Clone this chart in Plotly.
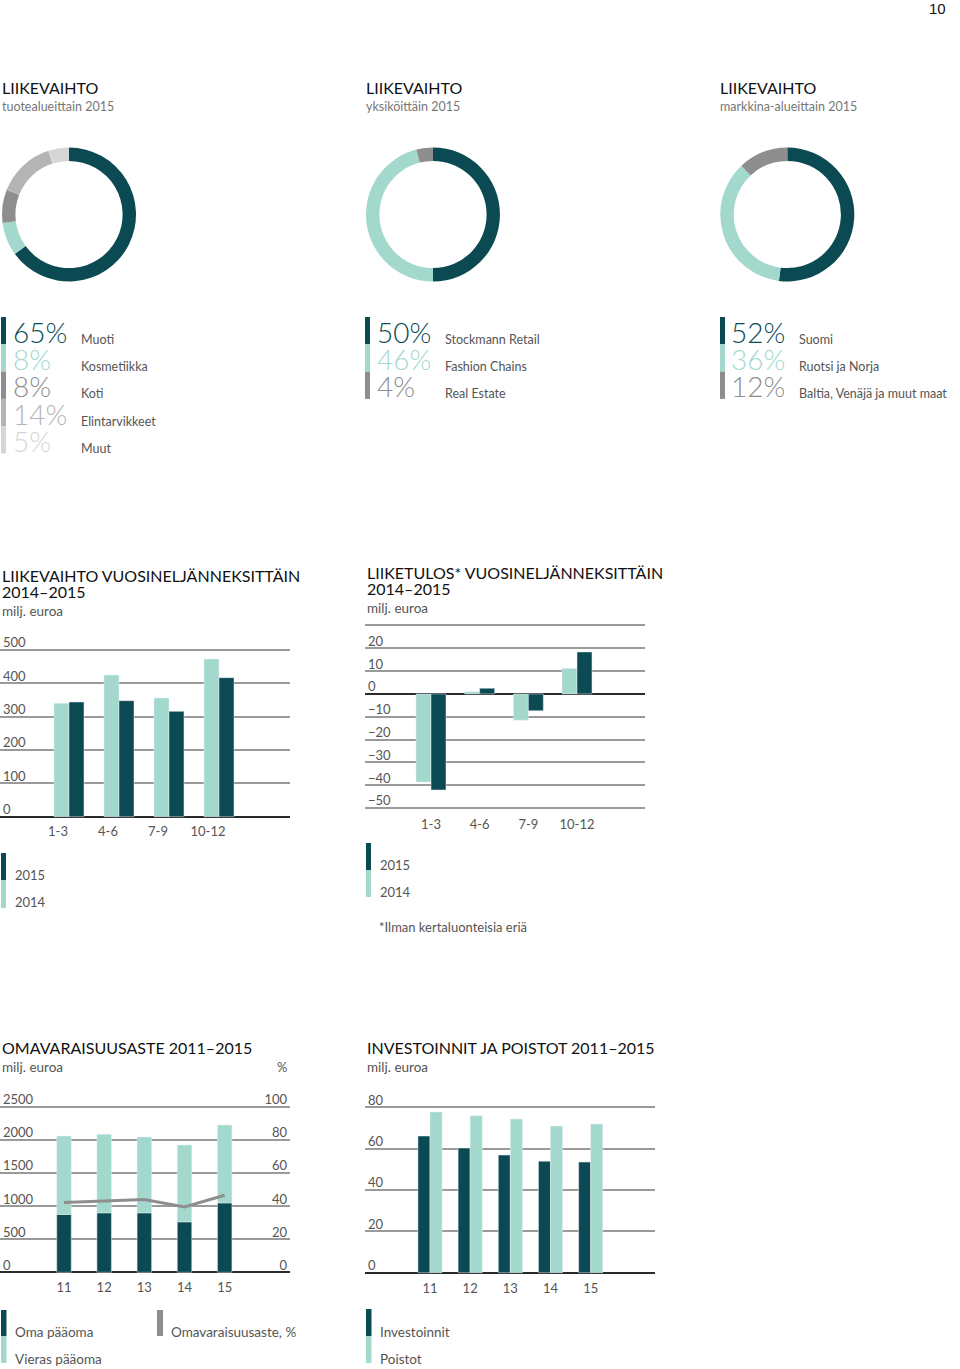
import plotly.graph_objects as go

W, H = 960, 1369
DARK = "#0c4a53"
LIGHT = "#a3d8cc"
GRAY = "#8e8e8e"
LGRAY = "#b4b4b4"
LLGRAY = "#d6d6d6"
FONT = "Lato"

# ---------------- data ----------------
prod_labels = ["Muoti", "Kosmetiikka", "Koti", "Elintarvikkeet", "Muut"]
prod_values = [65, 8, 8, 14, 5]
unit_labels = ["Stockmann Retail", "Fashion Chains", "Real Estate"]
unit_values = [50, 46, 4]
market_labels = ["Suomi", "Ruotsi ja Norja", "Baltia, Venäjä ja muut maat"]
market_values = [52, 36, 12]

quarters = ["1-3", "4-6", "7-9", "10-12"]
sales_2014 = [340, 425, 356, 473]
sales_2015 = [344, 348, 316, 417]
ebit_2014 = [-38.6, 1.0, -11.5, 11.1]
ebit_2015 = [-42.1, 2.5, -7.4, 18.4]

years = ["11", "12", "13", "14", "15"]
equity = [873, 898, 898, 762, 1048]
liabilities = [1184, 1185, 1144, 1160, 1175]
equity_ratio = [42.2, 43.0, 44.0, 39.5, 46.5]
investments = [66.1, 60.3, 56.9, 53.9, 53.5]
depreciation = [77.7, 75.9, 74.3, 70.9, 71.9]


def px(x):
    return x / W


def py(y):
    return 1 - y / H


fig = go.Figure()
annotations = []
shapes = []


def text(x, y, s, size=13, color="#555", anchor="left", family=FONT, weight=None):
    f = dict(family=family, size=size, color=color)
    if weight:
        f["weight"] = weight
    annotations.append(dict(x=px(x), y=py(y), xref="paper", yref="paper", text=s,
                            showarrow=False, xanchor=anchor, yanchor="middle", font=f))


def rect(x0, x1, y0, y1, color):
    shapes.append(dict(type="rect", xref="paper", yref="paper", x0=px(x0), x1=px(x1),
                       y0=py(y1), y1=py(y0), fillcolor=color, line=dict(width=0), layer="above"))


# ---------------- donuts ----------------
def donut(labels, values, colors, cx, cy, r=67, hole=0.8):
    fig.add_trace(go.Pie(labels=labels, values=values, sort=False, direction="clockwise",
                         rotation=0, hole=hole, textinfo="none", showlegend=False,
                         marker=dict(colors=colors, line=dict(width=0)),
                         domain=dict(x=[px(cx - r), px(cx + r)], y=[py(cy + r), py(cy - r)])))


def donut_legend(labels, values, colors, xbar, xnum, xlab, ytop=317, step=27.3):
    for i, (lab, val, col) in enumerate(zip(labels, values, colors)):
        y0 = ytop + i * step
        rect(xbar, xbar + 5, y0, y0 + step, col)
        text(xnum, y0 + step / 2 + 1, f"{val}%", size=28, color=col, weight=300)
        text(xlab, y0 + step / 2 + 8.5, lab, size=12.5, color="#555")


c1 = [DARK, LIGHT, GRAY, LGRAY, LLGRAY]
c2 = [DARK, LIGHT, GRAY]
donut(prod_labels, prod_values, c1, 69, 214.5)
donut(unit_labels, unit_values, c2, 433, 214.5)
donut(market_labels, market_values, c2, 787.3, 214.5)
donut_legend(prod_labels, prod_values, c1, 1, 11, 79)
donut_legend(unit_labels, unit_values, c2, 365, 375, 443)
donut_legend(market_labels, market_values, c2, 720, 729, 797)

# page header texts
text(948, 9, "10", size=15, color="#111", anchor="right", family="Liberation Sans")
for x, sub in [(0, "tuotealueittain 2015"), (364, "yksiköittäin 2015"), (718, "markkina-alueittain 2015")]:
    text(x, 88, "LIIKEVAIHTO", size=16, color="#111")
    text(x, 107, sub, size=12.5, color="#777")

# ---------------- axes helpers ----------------
GRID = "#9a9a9a"
ZERO = "#2a2a2a"
TICKF = dict(family=FONT, size=13, color="#555")


def yscale(v0, p0, v1, p1, pad_bot, pad_top):
    """value v0 at pixel p0 (bottom), v1 at pixel p1 (top); pads in pixels"""
    unit = (p0 - p1) / (v1 - v0)
    rng = [v0 - pad_bot / unit, v1 + pad_top / unit]
    return rng, p1 - pad_top, p0 + pad_bot


def yax(rng, ytop, ybot, dtick, anchor, side="left", grid=True, overlay=None):
    d = dict(domain=[py(ybot), py(ytop)], range=rng, dtick=dtick, tick0=0, anchor=anchor,
             showgrid=grid, gridcolor=GRID, gridwidth=1.5, zeroline=grid, zerolinecolor=ZERO,
             zerolinewidth=2, showline=False, ticks="", ticklabelposition="inside top",
             ticklabelshift=2, tickfont=TICKF, side=side, fixedrange=True)
    if overlay:
        d["overlaying"] = overlay
    return d


def xax(x0, x1, rng, anchor, shift=0, standoff=4):
    return dict(domain=[px(x0), px(x1)], range=rng, type="category", anchor=anchor,
                showgrid=False, zeroline=False, showline=False, ticks="",
                tickfont=TICKF, ticklabelshift=shift, ticklabelstandoff=standoff,
                fixedrange=True)


layout_axes = {}
PADTOP = 26
PADBOT = 4

# Chart 1: Liikevaihto quarterly
r1, t1, b1 = yscale(0, 816.7, 500, 650, PADBOT, PADTOP)
layout_axes["xaxis"] = xax(0, 290, [-1.38, 4.42], "y", shift=-11, standoff=1)
layout_axes["yaxis"] = yax(r1, t1, b1, 100, "x")
fig.add_trace(go.Bar(x=quarters, y=sales_2014, name="2014", marker_color=LIGHT,
                     width=0.3, offset=-0.3, xaxis="x", yaxis="y", showlegend=False))
fig.add_trace(go.Bar(x=quarters, y=sales_2015, name="2015", marker_color=DARK,
                     width=0.3, offset=0, xaxis="x", yaxis="y", showlegend=False))
text(0, 575, "LIIKEVAIHTO VUOSINELJÄNNEKSITTÄIN", size=16, color="#111")
text(0, 591, "2014–2015", size=16, color="#111")
text(0, 611, "milj. euroa", size=13.5, color="#555")
rect(1, 6, 853, 880, DARK)
rect(1, 6, 880, 908, LIGHT)
text(13, 875, "2015", color="#555")
text(13, 902, "2014", color="#555")

# Chart 2: Liiketulos quarterly
r2, t2, b2 = yscale(-50, 808, 20, 648.3, PADBOT, PADTOP)
layout_axes["xaxis2"] = xax(365, 645, [-1.356, 4.397], "y2", standoff=3)
layout_axes["yaxis2"] = yax(r2, t2, b2, 10, "x2")
fig.add_trace(go.Bar(x=quarters, y=ebit_2014, name="2014", marker_color=LIGHT,
                     width=0.308, offset=-0.308, xaxis="x2", yaxis="y2", showlegend=False))
fig.add_trace(go.Bar(x=quarters, y=ebit_2015, name="2015", marker_color=DARK,
                     width=0.308, offset=0, xaxis="x2", yaxis="y2", showlegend=False))
text(365, 572, "LIIKETULOS* VUOSINELJÄNNEKSITTÄIN", size=16, color="#111")
text(365, 588, "2014–2015", size=16, color="#111")
text(365, 608, "milj. euroa", size=13.5, color="#555")
rect(366, 371, 843, 870, DARK)
rect(366, 371, 870, 897, LIGHT)
text(378, 865, "2015", color="#555")
text(378, 892, "2014", color="#555")
text(377, 927, "*Ilman kertaluonteisia eriä", color="#555")

# Chart 3: Omavaraisuusaste
r3, t3, b3 = yscale(0, 1272.3, 2500, 1106.7, PADBOT, PADTOP)
r3b, _, _ = yscale(0, 1272.3, 100, 1106.7, PADBOT, PADTOP)
layout_axes["xaxis3"] = xax(0, 290, [-1.593, 5.626], "y3", standoff=2)
layout_axes["yaxis3"] = yax(r3, t3, b3, 500, "x3")
layout_axes["yaxis4"] = yax(r3b, t3, b3, 20, "x3", side="right", grid=False, overlay="y3")
fig.add_trace(go.Bar(x=years, y=equity, name="Oma pääoma", marker_color=DARK,
                     width=0.361, offset=-0.1805, xaxis="x3", yaxis="y3", showlegend=False))
fig.add_trace(go.Bar(x=years, y=liabilities, base=equity, name="Vieras pääoma", marker_color=LIGHT,
                     width=0.361, offset=-0.1805, xaxis="x3", yaxis="y3", showlegend=False))
fig.add_trace(go.Scatter(x=years, y=equity_ratio, mode="lines", name="Omavaraisuusaste, %",
                         line=dict(color=GRAY, width=3), xaxis="x3", yaxis="y4", showlegend=False))
text(0, 1047, "OMAVARAISUUSASTE 2011–2015", size=16, color="#111")
text(0, 1067, "milj. euroa", size=13.5, color="#555")
text(289, 1067, "%", size=13, color="#555", anchor="right")
rect(1, 6.5, 1310, 1336, DARK)
rect(1, 6.5, 1336, 1363, LIGHT)
text(13, 1332, "Oma pääoma", size=13.5, color="#555")
text(13, 1359, "Vieras pääoma", size=13.5, color="#555")
rect(157, 163, 1310, 1336, GRAY)
text(169, 1332, "Omavaraisuusaste, %", size=13.5, color="#555")

# Chart 4: Investoinnit ja poistot
r4, t4, b4 = yscale(0, 1272.7, 80, 1107.3, PADBOT, PADTOP)
layout_axes["xaxis4"] = xax(365, 655, [-1.618, 5.601], "y5", standoff=2)
layout_axes["yaxis5"] = yax(r4, t4, b4, 20, "x4")
fig.add_trace(go.Bar(x=years, y=investments, name="Investoinnit", marker_color=DARK,
                     width=0.3, offset=-0.3, xaxis="x4", yaxis="y5", showlegend=False))
fig.add_trace(go.Bar(x=years, y=depreciation, name="Poistot", marker_color=LIGHT,
                     width=0.3, offset=0, xaxis="x4", yaxis="y5", showlegend=False))
text(365, 1047, "INVESTOINNIT JA POISTOT 2011–2015", size=16, color="#111")
text(365, 1067, "milj. euroa", size=13.5, color="#555")
rect(366, 371.5, 1309, 1336, DARK)
rect(366, 371.5, 1336, 1363, LIGHT)
text(378, 1332, "Investoinnit", size=13.5, color="#555")
text(378, 1359, "Poistot", size=13.5, color="#555")

fig.update_layout(
    width=W, height=H, margin=dict(l=0, r=0, t=0, b=0),
    paper_bgcolor="white", plot_bgcolor="rgba(0,0,0,0)",
    barmode="overlay", font=dict(family=FONT, color="#555"),
    annotations=annotations, shapes=shapes, showlegend=False,
    **layout_axes,
)

fig.write_html("out.html", config={"displayModeBar": False},
               post_script="document.body.style.margin='0';document.body.style.overflow='hidden';")
